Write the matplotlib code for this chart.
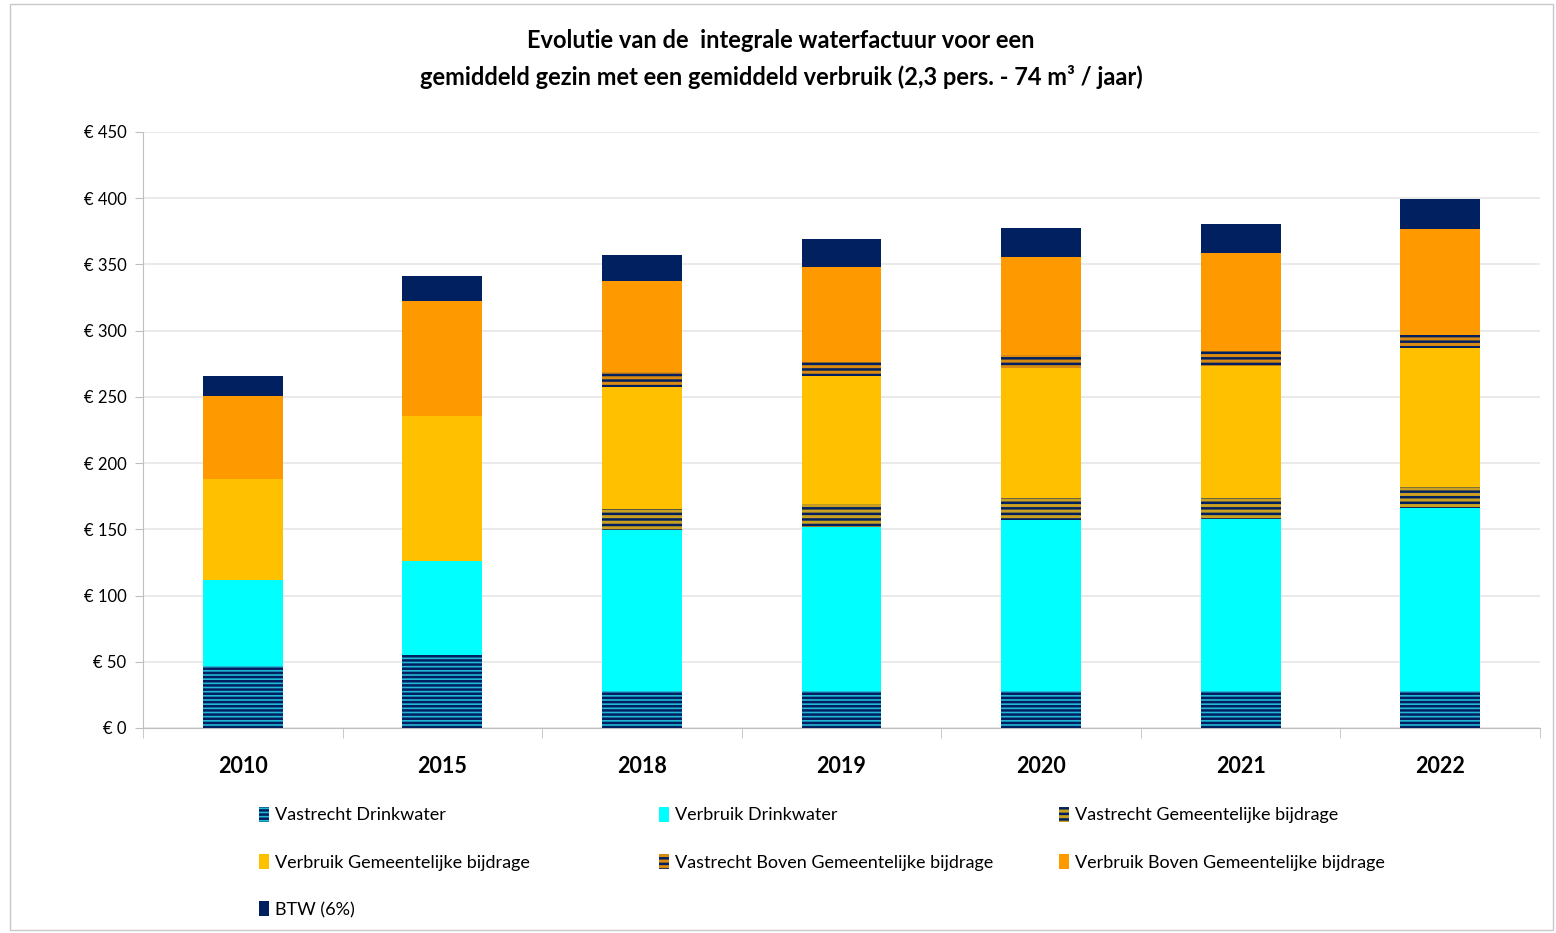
import matplotlib
matplotlib.use("Agg")
import matplotlib.pyplot as plt
from matplotlib.patches import Rectangle
import numpy as np

# chart data (euro per year)
years = ["2010", "2015", "2018", "2019", "2020", "2021", "2022"]
vast_dw = [47, 55, 28, 28, 28, 28, 28]
verb_dw = [65, 71, 121.5, 124, 129, 130, 138]
vast_gem = [0, 0, 16, 17, 16.5, 16, 16]
verb_gem = [76, 109.5, 92, 97, 98, 99, 105]
vast_boven = [0, 0, 11, 10, 10, 11.5, 9.5]
verb_boven = [63, 87, 69, 72, 74, 74, 80.5]
btw = [15, 19, 20, 21, 22, 22, 22.6]

series = [
    ("Vastrecht Drinkwater", vast_dw, "#22B8D8", "----"),
    ("Verbruik Drinkwater", verb_dw, "#00FFFF", None),
    ("Vastrecht Gemeentelijke bijdrage", vast_gem, "#C9A020", "---"),
    ("Verbruik Gemeentelijke bijdrage", verb_gem, "#FFC000", None),
    ("Vastrecht Boven Gemeentelijke bijdrage", vast_boven, "#D98A10", "---"),
    ("Verbruik Boven Gemeentelijke bijdrage", verb_boven, "#FF9900", None),
    ("BTW (6%)", btw, "#002060", None),
]

plt.rcParams['font.family'] = ['Lato', 'DejaVu Sans']
plt.rcParams['hatch.linewidth'] = 1.8

fig = plt.figure(figsize=(15.56, 9.33), dpi=100)
fig.patches.append(Rectangle((10 / 1556, 3 / 933), 1543 / 1556, 926 / 933,
                             transform=fig.transFigure, fill=False,
                             edgecolor="#C8C8C8", linewidth=1))
ax = fig.add_axes([143 / 1556, 1 - 728 / 933, (1540 - 143) / 1556, (728 - 132) / 933])

x = np.arange(len(years))
bottom = np.zeros(len(years))
handles = []
for name, vals, col, hatch in series:
    vals = np.array(vals, dtype=float)
    if hatch:
        b = ax.bar(x, vals, 0.4, bottom=bottom, color=col, edgecolor="#002060",
                   hatch=hatch, linewidth=0, label=name, zorder=3)
    else:
        b = ax.bar(x, vals, 0.4, bottom=bottom, color=col, linewidth=0,
                   label=name, zorder=3)
    bottom += vals
    handles.append(b)

ax.set_xlim(-0.5, len(years) - 0.5)
ax.set_ylim(0, 450)
ax.set_yticks(np.arange(0, 451, 50))
ax.set_yticklabels([f"€ {v}" for v in range(0, 451, 50)], fontsize=12)
ax.set_xticks(x)
ax.set_xticklabels(years, fontsize=15.5, fontweight="bold")
ax.set_xticks(np.arange(-0.5, len(years), 1), minor=True)
ax.tick_params(axis="x", which="major", length=0, pad=20)
ax.tick_params(axis="x", which="minor", length=7, color="#BFBFBF", direction="out")
ax.tick_params(axis="y", length=6, color="#BFBFBF", pad=6)
ax.grid(axis="y", color="#E6E6E6", linewidth=1.2, zorder=0)
for s in ["top", "right"]:
    ax.spines[s].set_visible(False)
ax.spines["left"].set_color("#BFBFBF")
ax.spines["bottom"].set_color("#BFBFBF")

fig.text(781 / 1556, 1 - 40 / 933, "Evolutie van de  integrale waterfactuur voor een",
         ha="center", va="center", fontsize=17, fontweight="bold")
fig.text(781 / 1556, 1 - 77 / 933,
         "gemiddeld gezin met een gemiddeld verbruik (2,3 pers. - 74 m³ / jaar)",
         ha="center", va="center", fontsize=17, fontweight="bold")

# legend laid out row by row in three fixed columns
cols = [[0, 3, 6], [1, 4], [2, 5]]
col_x = [255, 655, 1055]
for idx, cx in zip(cols, col_x):
    leg = fig.legend(handles=[handles[i] for i in idx], loc="upper left",
                     bbox_to_anchor=(cx / 1556, 1 - 803 / 933), frameon=False,
                     fontsize=13, handlelength=0.6, handleheight=0.9,
                     handletextpad=0.3, labelspacing=1.7, borderaxespad=0,
                     borderpad=0.2)

fig.savefig("out.png", dpi=100)
